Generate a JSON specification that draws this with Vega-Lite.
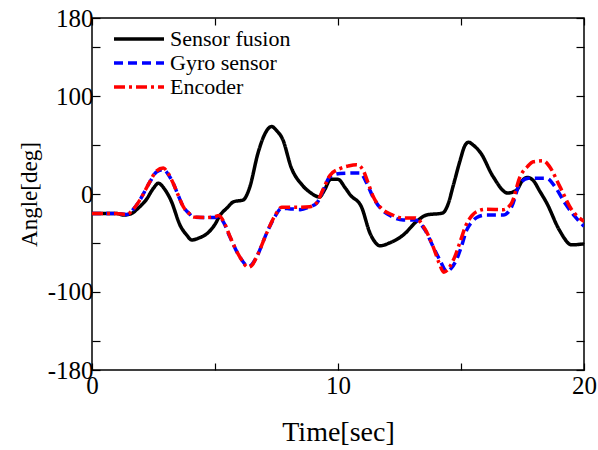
{
  "$schema": "https://vega.github.io/schema/vega-lite/v6.json",
  "width": 492,
  "height": 352,
  "autosize": {"type": "none"},
  "padding": {"left": 92, "top": 18, "right": 14, "bottom": 80},
  "background": "white",
  "config": {
    "view": {"stroke": "black", "strokeWidth": 1.5},
    "font": "Liberation Serif",
    "axis": {"grid": false, "domain": false, "tickColor": "black", "tickWidth": 1.2, "labelColor": "black", "titleColor": "black", "labelFont": "Liberation Serif", "titleFont": "Liberation Serif", "titleFontWeight": "normal"}
  },
  "datasets": {
    "d": [
      {"t": 0, "v": -20, "s": "Sensor fusion"},
      {"t": 0.5, "v": -20, "s": "Sensor fusion"},
      {"t": 1.0, "v": -20, "s": "Sensor fusion"},
      {"t": 1.3, "v": -21.5, "s": "Sensor fusion"},
      {"t": 1.6, "v": -20, "s": "Sensor fusion"},
      {"t": 1.9, "v": -14, "s": "Sensor fusion"},
      {"t": 2.2, "v": -6, "s": "Sensor fusion"},
      {"t": 2.5, "v": 6, "s": "Sensor fusion"},
      {"t": 2.7, "v": 11, "s": "Sensor fusion"},
      {"t": 2.95, "v": 5, "s": "Sensor fusion"},
      {"t": 3.2, "v": -6, "s": "Sensor fusion"},
      {"t": 3.6, "v": -33, "s": "Sensor fusion"},
      {"t": 3.85, "v": -42, "s": "Sensor fusion"},
      {"t": 4.05, "v": -47, "s": "Sensor fusion"},
      {"t": 4.35, "v": -45, "s": "Sensor fusion"},
      {"t": 4.7, "v": -40, "s": "Sensor fusion"},
      {"t": 5.0, "v": -31, "s": "Sensor fusion"},
      {"t": 5.2, "v": -22, "s": "Sensor fusion"},
      {"t": 5.5, "v": -14, "s": "Sensor fusion"},
      {"t": 5.75, "v": -8, "s": "Sensor fusion"},
      {"t": 6.15, "v": -6, "s": "Sensor fusion"},
      {"t": 6.4, "v": 6, "s": "Sensor fusion"},
      {"t": 6.75, "v": 42, "s": "Sensor fusion"},
      {"t": 7.0, "v": 60, "s": "Sensor fusion"},
      {"t": 7.3, "v": 69, "s": "Sensor fusion"},
      {"t": 7.5, "v": 65, "s": "Sensor fusion"},
      {"t": 7.75, "v": 56, "s": "Sensor fusion"},
      {"t": 8.1, "v": 27, "s": "Sensor fusion"},
      {"t": 8.55, "v": 9, "s": "Sensor fusion"},
      {"t": 8.9, "v": 1, "s": "Sensor fusion"},
      {"t": 9.25, "v": -3, "s": "Sensor fusion"},
      {"t": 9.45, "v": 4, "s": "Sensor fusion"},
      {"t": 9.7, "v": 15, "s": "Sensor fusion"},
      {"t": 10.0, "v": 15, "s": "Sensor fusion"},
      {"t": 10.3, "v": 6, "s": "Sensor fusion"},
      {"t": 10.5, "v": -1, "s": "Sensor fusion"},
      {"t": 10.95, "v": -13, "s": "Sensor fusion"},
      {"t": 11.3, "v": -40, "s": "Sensor fusion"},
      {"t": 11.5, "v": -49, "s": "Sensor fusion"},
      {"t": 11.7, "v": -53, "s": "Sensor fusion"},
      {"t": 12.1, "v": -50, "s": "Sensor fusion"},
      {"t": 12.65, "v": -42, "s": "Sensor fusion"},
      {"t": 13.2, "v": -28, "s": "Sensor fusion"},
      {"t": 13.6, "v": -21.5, "s": "Sensor fusion"},
      {"t": 14.25, "v": -19.5, "s": "Sensor fusion"},
      {"t": 14.45, "v": -12, "s": "Sensor fusion"},
      {"t": 14.7, "v": 10, "s": "Sensor fusion"},
      {"t": 14.96, "v": 34, "s": "Sensor fusion"},
      {"t": 15.15, "v": 49, "s": "Sensor fusion"},
      {"t": 15.3, "v": 53, "s": "Sensor fusion"},
      {"t": 15.5, "v": 50, "s": "Sensor fusion"},
      {"t": 15.8, "v": 42, "s": "Sensor fusion"},
      {"t": 16.3, "v": 18, "s": "Sensor fusion"},
      {"t": 16.9, "v": 1, "s": "Sensor fusion"},
      {"t": 17.26, "v": 4, "s": "Sensor fusion"},
      {"t": 17.5, "v": 14, "s": "Sensor fusion"},
      {"t": 17.7, "v": 17, "s": "Sensor fusion"},
      {"t": 17.93, "v": 14, "s": "Sensor fusion"},
      {"t": 18.2, "v": 3, "s": "Sensor fusion"},
      {"t": 18.5, "v": -10, "s": "Sensor fusion"},
      {"t": 19.0, "v": -37, "s": "Sensor fusion"},
      {"t": 19.5, "v": -52, "s": "Sensor fusion"},
      {"t": 20.0, "v": -51, "s": "Sensor fusion"},

      {"t": 0, "v": -20, "s": "Gyro sensor"},
      {"t": 0.5, "v": -20, "s": "Gyro sensor"},
      {"t": 1.0, "v": -20, "s": "Gyro sensor"},
      {"t": 1.4, "v": -21, "s": "Gyro sensor"},
      {"t": 1.7, "v": -15, "s": "Gyro sensor"},
      {"t": 1.95, "v": -6, "s": "Gyro sensor"},
      {"t": 2.36, "v": 12.6, "s": "Gyro sensor"},
      {"t": 2.6, "v": 22, "s": "Gyro sensor"},
      {"t": 2.9, "v": 25, "s": "Gyro sensor"},
      {"t": 3.1, "v": 20, "s": "Gyro sensor"},
      {"t": 3.3, "v": 11, "s": "Gyro sensor"},
      {"t": 3.5, "v": -1, "s": "Gyro sensor"},
      {"t": 3.71, "v": -13, "s": "Gyro sensor"},
      {"t": 3.95, "v": -20, "s": "Gyro sensor"},
      {"t": 4.12, "v": -23.5, "s": "Gyro sensor"},
      {"t": 4.6, "v": -24, "s": "Gyro sensor"},
      {"t": 5.0, "v": -24, "s": "Gyro sensor"},
      {"t": 5.15, "v": -23, "s": "Gyro sensor"},
      {"t": 5.35, "v": -29, "s": "Gyro sensor"},
      {"t": 5.6, "v": -43.6, "s": "Gyro sensor"},
      {"t": 6.0, "v": -64, "s": "Gyro sensor"},
      {"t": 6.36, "v": -74, "s": "Gyro sensor"},
      {"t": 6.5, "v": -72, "s": "Gyro sensor"},
      {"t": 6.7, "v": -64, "s": "Gyro sensor"},
      {"t": 7.1, "v": -40, "s": "Gyro sensor"},
      {"t": 7.44, "v": -23, "s": "Gyro sensor"},
      {"t": 7.71, "v": -14.6, "s": "Gyro sensor"},
      {"t": 8.0, "v": -15, "s": "Gyro sensor"},
      {"t": 8.46, "v": -16, "s": "Gyro sensor"},
      {"t": 8.86, "v": -13, "s": "Gyro sensor"},
      {"t": 9.13, "v": -9.5, "s": "Gyro sensor"},
      {"t": 9.4, "v": 4, "s": "Gyro sensor"},
      {"t": 9.67, "v": 17.7, "s": "Gyro sensor"},
      {"t": 10.08, "v": 21, "s": "Gyro sensor"},
      {"t": 10.9, "v": 21.5, "s": "Gyro sensor"},
      {"t": 11.17, "v": 11, "s": "Gyro sensor"},
      {"t": 11.44, "v": -4, "s": "Gyro sensor"},
      {"t": 11.78, "v": -16, "s": "Gyro sensor"},
      {"t": 12.18, "v": -23, "s": "Gyro sensor"},
      {"t": 12.65, "v": -26.6, "s": "Gyro sensor"},
      {"t": 13.13, "v": -26.6, "s": "Gyro sensor"},
      {"t": 13.54, "v": -37, "s": "Gyro sensor"},
      {"t": 13.87, "v": -54, "s": "Gyro sensor"},
      {"t": 14.15, "v": -68, "s": "Gyro sensor"},
      {"t": 14.42, "v": -79, "s": "Gyro sensor"},
      {"t": 14.6, "v": -76, "s": "Gyro sensor"},
      {"t": 14.82, "v": -67, "s": "Gyro sensor"},
      {"t": 15.0, "v": -55, "s": "Gyro sensor"},
      {"t": 15.23, "v": -37, "s": "Gyro sensor"},
      {"t": 15.5, "v": -27, "s": "Gyro sensor"},
      {"t": 15.64, "v": -24, "s": "Gyro sensor"},
      {"t": 16.04, "v": -21.5, "s": "Gyro sensor"},
      {"t": 16.72, "v": -21.5, "s": "Gyro sensor"},
      {"t": 17.06, "v": -13, "s": "Gyro sensor"},
      {"t": 17.4, "v": 11, "s": "Gyro sensor"},
      {"t": 17.74, "v": 16, "s": "Gyro sensor"},
      {"t": 18.48, "v": 16, "s": "Gyro sensor"},
      {"t": 18.82, "v": 7.5, "s": "Gyro sensor"},
      {"t": 19.23, "v": -9.5, "s": "Gyro sensor"},
      {"t": 19.63, "v": -23, "s": "Gyro sensor"},
      {"t": 20.0, "v": -33, "s": "Gyro sensor"},

      {"t": 0, "v": -20, "s": "Encoder"},
      {"t": 0.5, "v": -20, "s": "Encoder"},
      {"t": 1.0, "v": -20, "s": "Encoder"},
      {"t": 1.4, "v": -21, "s": "Encoder"},
      {"t": 1.7, "v": -15, "s": "Encoder"},
      {"t": 1.95, "v": -6, "s": "Encoder"},
      {"t": 2.36, "v": 13, "s": "Encoder"},
      {"t": 2.6, "v": 23, "s": "Encoder"},
      {"t": 2.9, "v": 26.5, "s": "Encoder"},
      {"t": 3.1, "v": 21, "s": "Encoder"},
      {"t": 3.3, "v": 11, "s": "Encoder"},
      {"t": 3.5, "v": -1, "s": "Encoder"},
      {"t": 3.71, "v": -13, "s": "Encoder"},
      {"t": 3.95, "v": -20, "s": "Encoder"},
      {"t": 4.12, "v": -23.5, "s": "Encoder"},
      {"t": 4.6, "v": -24, "s": "Encoder"},
      {"t": 5.0, "v": -23, "s": "Encoder"},
      {"t": 5.15, "v": -22, "s": "Encoder"},
      {"t": 5.35, "v": -28, "s": "Encoder"},
      {"t": 5.6, "v": -43, "s": "Encoder"},
      {"t": 6.0, "v": -64, "s": "Encoder"},
      {"t": 6.36, "v": -75, "s": "Encoder"},
      {"t": 6.5, "v": -73, "s": "Encoder"},
      {"t": 6.7, "v": -64, "s": "Encoder"},
      {"t": 7.1, "v": -40, "s": "Encoder"},
      {"t": 7.44, "v": -22, "s": "Encoder"},
      {"t": 7.71, "v": -13.5, "s": "Encoder"},
      {"t": 8.0, "v": -13.5, "s": "Encoder"},
      {"t": 8.46, "v": -13.5, "s": "Encoder"},
      {"t": 8.86, "v": -13, "s": "Encoder"},
      {"t": 9.13, "v": -9, "s": "Encoder"},
      {"t": 9.4, "v": 5, "s": "Encoder"},
      {"t": 9.67, "v": 19, "s": "Encoder"},
      {"t": 10.08, "v": 26, "s": "Encoder"},
      {"t": 10.4, "v": 28.5, "s": "Encoder"},
      {"t": 10.76, "v": 30, "s": "Encoder"},
      {"t": 11.03, "v": 24, "s": "Encoder"},
      {"t": 11.2, "v": 13, "s": "Encoder"},
      {"t": 11.44, "v": -3, "s": "Encoder"},
      {"t": 11.78, "v": -15, "s": "Encoder"},
      {"t": 12.18, "v": -21, "s": "Encoder"},
      {"t": 12.65, "v": -24.5, "s": "Encoder"},
      {"t": 13.13, "v": -24.5, "s": "Encoder"},
      {"t": 13.54, "v": -36, "s": "Encoder"},
      {"t": 13.87, "v": -54, "s": "Encoder"},
      {"t": 14.1, "v": -70, "s": "Encoder"},
      {"t": 14.3, "v": -80, "s": "Encoder"},
      {"t": 14.5, "v": -76, "s": "Encoder"},
      {"t": 14.75, "v": -64, "s": "Encoder"},
      {"t": 14.95, "v": -50, "s": "Encoder"},
      {"t": 15.2, "v": -32, "s": "Encoder"},
      {"t": 15.45, "v": -22, "s": "Encoder"},
      {"t": 15.64, "v": -18, "s": "Encoder"},
      {"t": 16.04, "v": -15.5, "s": "Encoder"},
      {"t": 16.72, "v": -16, "s": "Encoder"},
      {"t": 17.06, "v": -9, "s": "Encoder"},
      {"t": 17.4, "v": 17.7, "s": "Encoder"},
      {"t": 17.7, "v": 28, "s": "Encoder"},
      {"t": 17.94, "v": 33, "s": "Encoder"},
      {"t": 18.35, "v": 34, "s": "Encoder"},
      {"t": 18.6, "v": 28, "s": "Encoder"},
      {"t": 19.02, "v": 7.5, "s": "Encoder"},
      {"t": 19.5, "v": -16, "s": "Encoder"},
      {"t": 20.0, "v": -28, "s": "Encoder"}
    ]
  },
  "data": {"name": "d"},
  "layer": [
    {
      "mark": {"type": "line", "strokeWidth": 3.5, "interpolate": "monotone", "clip": true},
      "encoding": {
        "x": {
          "field": "t", "type": "quantitative",
          "scale": {"domain": [0, 20], "nice": false, "zero": false},
          "axis": {"orient": "bottom", "values": [0, 5, 10, 15, 20], "tickSize": -7, "labelExpr": "datum.value % 10 == 0 ? '' + datum.value : ''", "labelFontSize": 25, "labelPadding": 10, "labelFlush": false, "title": "Time[sec]", "titleFontSize": 28, "titleX": 246, "titleY": 62, "titleBaseline": "middle", "titleAlign": "center"}
        },
        "y": {
          "field": "v", "type": "quantitative",
          "scale": {"domain": [-180, 180], "nice": false, "zero": false},
          "axis": {"orient": "left", "values": [-180, -150, -100, -50, 0, 50, 100, 150, 180], "tickSize": -8, "labelExpr": "indexof([-180, -100, 0, 100, 180], datum.value) >= 0 ? '' + datum.value : ''", "labelFontSize": 25, "labelPadding": 7, "labelFlush": false, "title": "Angle[deg]", "titleFontSize": 23, "titleAngle": -90, "titleX": -63, "titleY": 176, "titleBaseline": "middle", "titleAlign": "center"}
        },
        "color": {
          "field": "s", "type": "nominal",
          "scale": {"domain": ["Sensor fusion", "Gyro sensor", "Encoder"], "range": ["black", "blue", "red"]},
          "legend": {"orient": "none", "legendX": 20, "legendY": 9, "title": null, "symbolType": "stroke", "symbolSize": 2500, "symbolStrokeWidth": 3.5, "clipHeight": 24, "rowPadding": 0, "labelFontSize": 22, "labelFont": "Liberation Serif", "labelColor": "black", "labelOffset": 4}
        },
        "strokeDash": {
          "field": "s", "type": "nominal",
          "scale": {"domain": ["Sensor fusion", "Gyro sensor", "Encoder"], "range": [[1, 0], [9, 5], [11, 4, 3, 4]]},
          "legend": null
        },
        "order": {"field": "t", "type": "quantitative"}
      }
    },
    {
      "mark": {"type": "line", "opacity": 0},
      "encoding": {
        "x": {
          "field": "t", "type": "quantitative",
          "scale": {"domain": [0, 20], "nice": false, "zero": false},
          "axis": {"orient": "top", "values": [0, 5, 10, 15, 20], "tickSize": -7, "labels": false, "title": null}
        },
        "y": {
          "field": "v", "type": "quantitative",
          "scale": {"domain": [-180, 180], "nice": false, "zero": false},
          "axis": {"orient": "right", "values": [-180, -150, -100, -50, 0, 50, 100, 150, 180], "tickSize": -8, "labels": false, "title": null}
        },
        "detail": {"field": "s", "type": "nominal"}
      }
    }
  ],
  "resolve": {"axis": {"x": "independent", "y": "independent"}}
}
